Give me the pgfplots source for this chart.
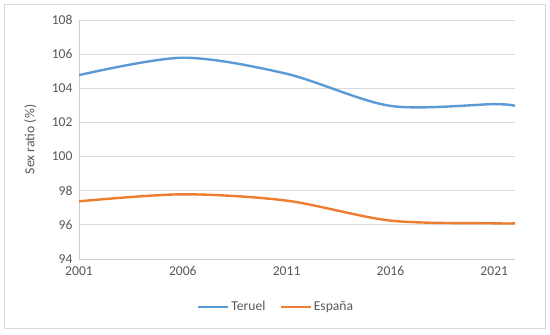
\documentclass[border=0pt]{standalone}
\usepackage{pgfplots}
\pgfplotsset{compat=1.18}
\usepackage{fontspec}
\setmainfont{Carlito}
\definecolor{tblue}{HTML}{5B9BD5}
\definecolor{torange}{HTML}{ED7D31}
\definecolor{txt}{HTML}{595959}
\definecolor{grd}{HTML}{D9D9D9}
\begin{document}
\begin{tikzpicture}[x=1bp,y=1bp]
\useasboundingbox (0,0) rectangle (550,334);
\fill[white] (0,0) rectangle (550,334);
\draw[grd, line width=0.9bp] (4.5,6) rectangle (545,330);
\begin{axis}[
  at={(79bp,75bp)}, anchor=south west,
  scale only axis, width=436bp, height=239bp,
  xmin=2001, xmax=2022, ymin=94, ymax=108,
  xtick={2001,2006,2011,2016,2021},
  ytick={94,96,...,108},
  xticklabel style={/pgf/number format/1000 sep={}},
  /pgf/number format/assume math mode=true,
  tick style={draw=none},
  ymajorgrids, grid style={grd, line width=0.75bp},
  axis x line*=bottom, axis y line*=left,
  axis line style={draw=grd!80!black!60, line width=0.75bp, -},
  ticklabel style={font=\fontsize{13.6bp}{15bp}\selectfont, text=txt},
  xticklabel style={yshift=-4bp},
  yticklabel style={xshift=-3bp},
  ylabel={Sex ratio (\%)},
  ylabel style={font=\fontsize{13.8bp}{15bp}\selectfont, text=txt, at={(axis description cs:-0.112,0.5)}, anchor=center, rotate=0},
  legend columns=2,
  legend style={draw=none, fill=none, font=\fontsize{13.6bp}{15bp}\selectfont, text=txt,
    at={(axis description cs:0.452,-0.2)}, anchor=center,
    /tikz/every even column/.append style={column sep=12bp}},
  legend image code/.code={\draw[#1] (0bp,0bp) -- (30bp,0bp);},
]
\addplot[tblue, line width=2.4bp, smooth, tension=0.5] coordinates {
 (2001,104.77) (2006,105.79) (2011,104.85) (2016,102.97) (2021,103.07) (2022,102.97)};
\addlegendentry{Teruel}
\addplot[torange, line width=2.4bp, smooth, tension=0.5] coordinates {
 (2001,97.38) (2006,97.79) (2011,97.42) (2016,96.25) (2021,96.09) (2022,96.09)};
\addlegendentry{España}
\end{axis}
\end{tikzpicture}
\end{document}
